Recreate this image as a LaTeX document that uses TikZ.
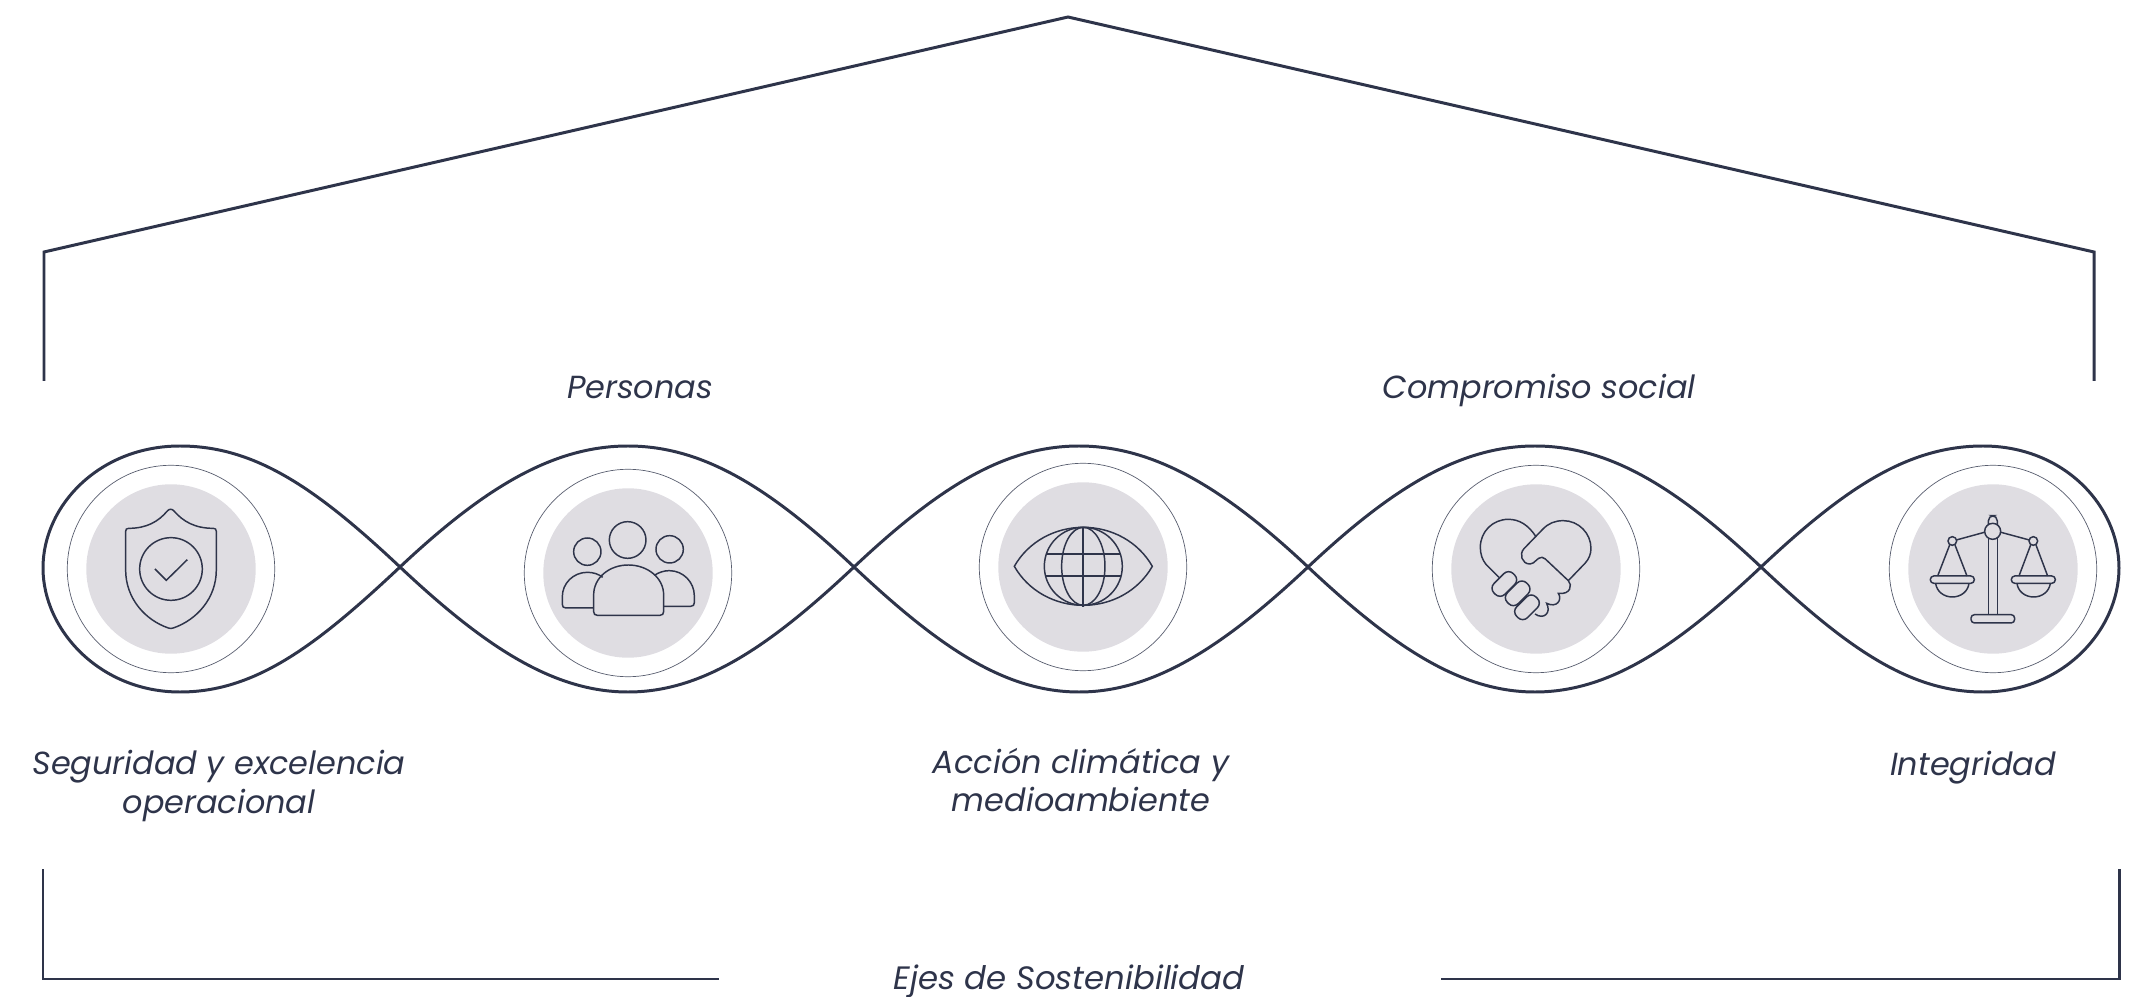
\documentclass[tikz,border=0pt]{standalone}
\usepackage{fontspec}
\setmainfont{Poppins}
\definecolor{inkline}{HTML}{2E344A}
\definecolor{disc}{HTML}{DFDDE2}
\tikzset{
    bigline/.style={draw=inkline, line width=0.85pt},
    iconline/.style={draw=inkline, line width=0.42pt},
    ringouter/.style={draw=inkline!80, circle, line width=0.2pt, minimum size=6.22cm*1/3, inner sep=0pt},
    ringinner/.style={fill=disc, circle, minimum size=5.08cm*1/3, inner sep=0pt},
    label/.style={text=inkline, font=\itshape\fontsize{9.08pt}{10.95pt}\selectfont, align=center, inner sep=0pt}
}
\begin{document}
\begin{tikzpicture}[x=0.01cm, y=-0.01cm]
    \useasboundingbox (0,0) rectangle (2141,997);

    % Roof and bracket
    \coordinate (roofa) at (44,381);
    \coordinate (roofb) at (44,252);
    \coordinate (roofc) at (1068,17);
    \coordinate (roofd) at (2094,252);
    \coordinate (roofe) at (2094,381);
    \draw [bigline] (roofa) -- (roofb) -- (roofc) -- (roofd) -- (roofe);
    \node[label, font=\itshape\fontsize{9.2pt}{11pt}\selectfont] (ejes) at (1069,981) {Ejes de Sostenibilidad};
    \coordinate (braa) at (43,869);
    \coordinate (brab) at (43,979);
    \coordinate (brac) at (719,979);
    \coordinate (brad) at (1441,979);
    \coordinate (brae) at (2119,979);
    \coordinate (braf) at (2119,869);
    \draw [bigline] (braa) -- (brab) -- (brac);
    \draw [bigline] (brad) -- (brae) -- (braf);

    % Strands
    \foreach \xa/\xp/\xb in {400/628/854, 854/1079/1308, 1308/1535/1761}{
        \draw [bigline] (\xa,567) .. controls (\xa+84,488) and (\xp-75,446) .. (\xp,446)
            .. controls (\xp+75,446) and (\xb-84,488) .. (\xb,567);
        \draw [bigline] (\xa,567) .. controls (\xa+84,646) and (\xp-75,692) .. (\xp,692)
            .. controls (\xp+75,692) and (\xb-84,646) .. (\xb,567);
    }
    % End loops
    \draw [bigline] (400,567) .. controls (316,488) and (255,446) .. (180,446)
        .. controls (100,446) and (43,505) .. (43,568)
        .. controls (43,630) and (100,692) .. (180,692)
        .. controls (255,692) and (316,646) .. (400,567);
    \draw [bigline] (1761,567) .. controls (1845,488) and (1908,446) .. (1983,446)
        .. controls (2063,446) and (2119,505) .. (2119,568)
        .. controls (2119,630) and (2063,692) .. (1983,692)
        .. controls (1908,692) and (1845,646) .. (1761,567);

    % Rings
    \foreach \x/\y/\n in {171/569/a, 628/573/b, 1083/567/c, 1536/569/d, 1993/569/e}{
        \node[ringouter] (ring\n) at (\x,\y){};
        \node[ringinner] (disc\n) at (\x,\y){};
    }

    % Shield
    \begin{scope}[shift={(30,430)}, scale=0.3333, iconline]
        \draw (412,243) .. controls (418,236) and (426,236) .. (432,243)
            .. controls (460,275) and (495,295) .. (550,295)
            .. controls (556,295) and (559,298) .. (559,304) -- (559,420)
            .. controls (559,505) and (500,570) .. (430,594)
            .. controls (425,596) and (420,596) .. (415,594)
            .. controls (345,570) and (287,505) .. (287,420) -- (287,304)
            .. controls (287,298) and (290,295) .. (296,295)
            .. controls (350,295) and (385,275) .. (412,243) -- cycle;
        \draw (423,417) circle [radius=94];
        \draw (375,417) -- (409,451) -- (472,389);
    \end{scope}

    % People
    \begin{scope}[shift={(510,450)}, scale=0.3333, iconline]
        \draw (353,270) circle [radius=55];
        \draw (232,305) circle [radius=41];
        \draw (479,298) circle [radius=41];
        \draw (251,474) -- (168,474) .. controls (160,474) and (157,470) .. (157,463) -- (157,440)
            .. controls (157,400) and (190,367) .. (232,367) .. controls (250,367) and (265,372) .. (278,382);
        \draw (461,469) -- (542,469) .. controls (550,469) and (553,465) .. (553,458) -- (553,437)
            .. controls (553,397) and (520,362) .. (478,362) .. controls (462,362) and (447,367) .. (433,376);
        \draw (251,435) .. controls (251,383) and (298,345) .. (355,345)
            .. controls (412,345) and (461,383) .. (461,435) -- (461,485)
            .. controls (461,492) and (457,496) .. (450,496) -- (262,496)
            .. controls (255,496) and (251,492) .. (251,485) -- cycle;
    \end{scope}

    % Eye and globe
    \begin{scope}[shift={(960,450)}, scale=0.3333, iconline]
        \draw (163,349) .. controls (205,275) and (285,232) .. (370,232)
            .. controls (455,232) and (535,275) .. (577,349)
            .. controls (535,423) and (455,466) .. (370,466)
            .. controls (285,466) and (205,423) .. (163,349) -- cycle;
        \draw (370,349) circle [radius=117];
        \draw (370,349) ellipse [x radius=65, y radius=117];
        \draw [line width=0.6pt] (370,232) -- (370,472);
        \draw [line width=0.6pt] (258,311) -- (482,311);
        \draw [line width=0.6pt] (256,377) -- (484,377);
    \end{scope}

    % Handshake
    \begin{scope}[shift={(1420,450)}, scale=0.3333, iconline]
        \draw (237,382) -- (198,343) .. controls (187,330) and (181,312) .. (181,292)
            .. controls (181,245) and (218,208) .. (265,208)
            .. controls (298,208) and (325,225) .. (348,260);
        \draw (445,392) -- (495,340) .. controls (507,327) and (513,312) .. (513,295)
            .. controls (513,250) and (476,212) .. (430,212)
            .. controls (405,212) and (385,220) .. (368,238)
            -- (312,296) .. controls (297,312) and (305,342) .. (330,342)
            .. controls (345,342) and (350,322) .. (366,322)
            .. controls (370,322) and (373,325) .. (376,327) -- (445,392)
            .. controls (458,405) and (452,435) .. (415,430)
            .. controls (428,450) and (410,475) .. (380,460)
            .. controls (395,490) and (370,510) .. (345,492);
        \foreach \fx/\fy in {253/402, 293/430, 321/472}{
            \draw [rotate around={45:(\fx,\fy)}, rounded corners=1.9pt] (\fx-41,\fy-23) rectangle (\fx+41,\fy+23);
        }
    \end{scope}

    % Scales
    \begin{scope}[shift={(1870,450)}, scale=0.3333, iconline]
        \draw [rounded corners=1.5pt] (355,225) -- (355,197) -- (382,197) -- (382,225);
        \draw (355,265) -- (355,495);
        \draw (382,265) -- (382,495);
        \draw [rounded corners=1pt] (303,494) rectangle (434,519);
        \draw (343,247) -- (259,270);
        \draw (393,247) -- (478,270);
        \draw [fill=disc] (368,244) circle [radius=24];
        \draw (247,273) circle [radius=13];
        \draw (490,273) circle [radius=13];
        \draw (239,285) -- (203,378);
        \draw (255,285) -- (291,378);
        \draw (482,285) -- (447,378);
        \draw (498,285) -- (533,378);
        \draw [rounded corners=1pt] (181,378) rectangle (313,400);
        \draw [rounded corners=1pt] (424,378) rectangle (556,400);
        \draw (197,400) .. controls (200,425) and (222,441) .. (247,441) .. controls (272,441) and (294,425) .. (297,400);
        \draw (441,400) .. controls (444,425) and (466,441) .. (491,441) .. controls (516,441) and (538,425) .. (541,400);
    \end{scope}

    % Labels
    \node[label] (personas) at (640,388) {Personas};
    \node[label] (compromiso) at (1539,391) {Compromiso social};
    \node[label] (seguridad) at (219,786) {Seguridad y excelencia\\operacional};
    \node[label] (accion) at (1081,780) {Acción climática y\\medioambiente};
    \node[label] (integridad) at (1973,768) {Integridad};
\end{tikzpicture}
\end{document}
